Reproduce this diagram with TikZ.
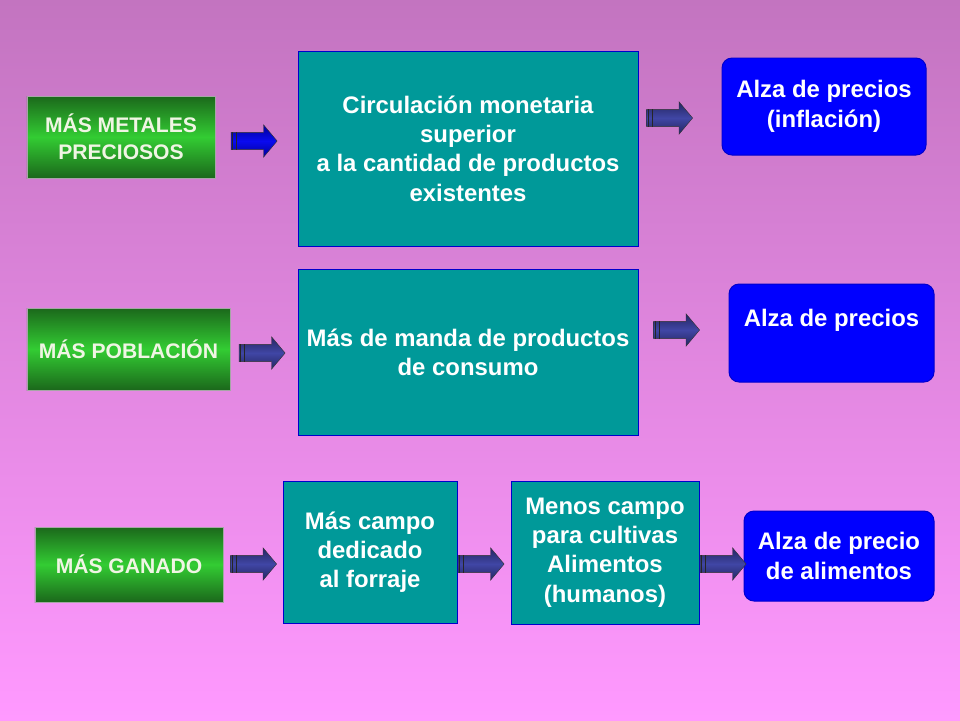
\documentclass[tikz,border=0pt]{standalone}
\usepackage{fontspec}
\setmainfont{Liberation Sans}
\usetikzlibrary{shapes.arrows}
\definecolor{fondoarriba}{RGB}{195,116,192}
\definecolor{fondoabajo}{RGB}{255,153,255}
\definecolor{verdeoscuro}{RGB}{27,104,27}
\definecolor{verdeclaro}{RGB}{51,204,51}
\definecolor{textoverde}{RGB}{240,245,228}
\definecolor{turquesa}{RGB}{0,153,153}
\definecolor{azulborde}{RGB}{0,0,204}
\definecolor{azulcaja}{RGB}{0,0,255}
\definecolor{marino}{RGB}{36,38,96}
\definecolor{marinoclaro}{RGB}{64,70,165}
\definecolor{azulosc}{RGB}{0,0,150}
\definecolor{azulvivo}{RGB}{10,10,240}

\begin{document}
\begin{tikzpicture}[
    x=0.25mm, y=-0.25mm,
    causa/.style={draw=gray!70, line width=0.4pt, top color=verdeoscuro, bottom color=verdeoscuro, middle color=verdeclaro, text=textoverde, font=\fontsize{15}{19}\selectfont\bfseries, align=center, inner sep=0pt},
    efecto/.style={draw=azulborde, line width=0.7pt, fill=turquesa, text=white, font=\fontsize{17}{20.8}\selectfont\bfseries, align=center, inner sep=0pt},
    alza/.style={draw=azulborde, line width=0.7pt, fill=azulcaja, rounded corners=2.5mm, text=white, font=\fontsize{17}{21.3}\selectfont\bfseries, align=center, inner sep=0pt},
    flecha/.style={single arrow, minimum height=11.5mm, inner xsep=0pt, inner ysep=2.1mm, single arrow head extend=1.9mm, single arrow tip angle=100, draw=black!80, line width=0.3pt, top color=marino, bottom color=marino, middle color=marinoclaro},
    flechaazul/.style={flecha, top color=azulosc, bottom color=azulosc, middle color=azulvivo},
    barra/.style={line width=0.6pt, black!85}
]

% Fondo
\shade[top color=fondoarriba, bottom color=fondoabajo] (0,0) rectangle (960,720);

% Metales
\node[causa, minimum width=47mm, minimum height=20.5mm] (metales) at (121,137) {MÁS METALES\\PRECIOSOS};
\node[efecto, minimum width=85mm, minimum height=48.75mm] (circulacion) at (468,148.5) {Circulación monetaria\\superior\\a la cantidad de productos\\existentes};
\node[alza, minimum width=51mm, minimum height=24.25mm] (inflacion) at (824,106.5) {Alza de precios\\(inflación)};

% Poblacion
\node[causa, minimum width=50.75mm, minimum height=20.5mm] (poblacion) at (128.5,349) {MÁS POBLACIÓN};
\node[efecto, minimum width=85mm, minimum height=41.5mm] (demanda) at (468,352) {Más de manda de productos\\de consumo};
\node[alza, minimum width=51.25mm, minimum height=24.5mm, text depth=7.5mm] (precios) at (831.5,333) {Alza de precios};

% Ganado
\node[causa, minimum width=47mm, minimum height=18.75mm] (ganado) at (129,564.5) {MÁS GANADO};
\node[efecto, minimum width=43.5mm, minimum height=35.5mm] (forraje) at (370,552) {Más campo\\dedicado\\al forraje};
\node[efecto, minimum width=47mm, minimum height=35.75mm] (cultivos) at (605,552.5) {Menos campo\\para cultivas\\Alimentos\\(humanos)};
\node[alza, minimum width=47.5mm, minimum height=22.5mm] (alimentos) at (839,556) {Alza de precio\\de alimentos};

% Flechas
\node[flechaazul] (f1) at (250.5,141) {};
\node[flecha] (f2) at (666,118) {};
\node[flecha] (f3) at (258.5,353) {};
\node[flecha] (f4) at (673,330) {};
\node[flecha] (f5) at (250,564) {};
\node[flecha] (f6) at (477.5,564) {};
\node[flecha] (f7) at (719.5,564) {};
\foreach \f in {f1,f2,f3,f4,f5,f6,f7} {
    \draw[barra] ([xshift=0.4mm]\f.before tail) -- ([xshift=0.4mm]\f.after tail);
    \draw[barra] ([xshift=1.5mm]\f.before tail) -- ([xshift=1.5mm]\f.after tail);
}

\end{tikzpicture}
\end{document}
